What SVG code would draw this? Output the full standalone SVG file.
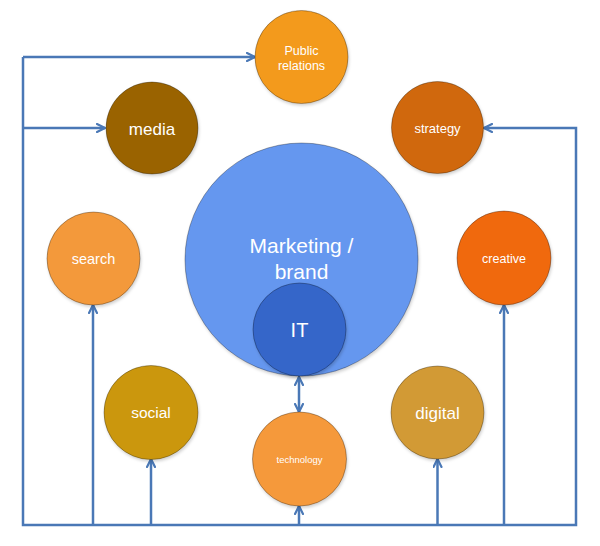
<svg xmlns="http://www.w3.org/2000/svg" width="600" height="546" viewBox="0 0 600 546">
<defs>
<marker id="arr" viewBox="0 0 10 10" refX="9" refY="5" markerWidth="10" markerHeight="10" markerUnits="userSpaceOnUse" orient="auto-start-reverse">
<path d="M1,1 L9,5 L1,9" fill="none" stroke="#4a78b6" stroke-width="2.2" stroke-linecap="round" stroke-linejoin="round"/>
</marker>
<filter id="sh" x="-20%" y="-20%" width="140%" height="140%">
<feDropShadow dx="1" dy="2" stdDeviation="1.5" flood-color="#000" flood-opacity="0.18"/>
</filter>
</defs>
<style>
.n{stroke:#000;stroke-opacity:0.3;stroke-width:1;filter:url(#sh)}
.t{fill:#fff;font-family:"Liberation Sans",Arial,sans-serif;text-anchor:middle}
.c{fill:none;stroke:#4a78b6;stroke-width:2.5}
</style>
<rect width="600" height="546" fill="#fff"/>
<g id="connectors">
<path class="c" d="M23,57 V525 H576 V128 H484" marker-end="url(#arr)"/>
<path class="c" d="M23,57 H255" marker-end="url(#arr)"/>
<path class="c" d="M23,128 H105" marker-end="url(#arr)"/>
<path class="c" d="M93,525 V305" marker-end="url(#arr)"/>
<path class="c" d="M151,525 V459" marker-end="url(#arr)"/>
<path class="c" d="M299,525 V506" marker-end="url(#arr)"/>
<path class="c" d="M437.5,525 V459" marker-end="url(#arr)"/>
<path class="c" d="M504,525 V305" marker-end="url(#arr)"/>
<path class="c" d="M299,377 V412" marker-start="url(#arr)" marker-end="url(#arr)"/>
</g>
<g id="public-relations">
<circle class="n" cx="301.5" cy="57" r="46.5" fill="#f39a1c"/>
<text class="t" x="301.5" y="55" font-size="12.5">Public</text>
<text class="t" x="301.5" y="70" font-size="12.5">relations</text>
</g>
<g id="media">
<circle class="n" cx="152" cy="128" r="46" fill="#9a6406"/>
<text class="t" x="152" y="135" font-size="17">media</text>
</g>
<g id="strategy">
<circle class="n" cx="437.5" cy="127.5" r="46" fill="#d0680b"/>
<text class="t" x="437.5" y="133" font-size="13">strategy</text>
</g>
<g id="search">
<circle class="n" cx="93.5" cy="258.5" r="46.5" fill="#f3993a"/>
<text class="t" x="93.5" y="264" font-size="14.5">search</text>
</g>
<g id="creative">
<circle class="n" cx="504" cy="258" r="47" fill="#f0690f"/>
<text class="t" x="504" y="263" font-size="12.5">creative</text>
</g>
<g id="marketing">
<circle class="n" cx="301.5" cy="259.5" r="116.5" fill="#6597ef"/>
<text class="t" x="301.5" y="253" font-size="21">Marketing /</text>
<text class="t" x="301.5" y="279" font-size="21">brand</text>
</g>
<g id="it">
<circle class="n" cx="299.5" cy="329.5" r="46.5" fill="#3566c9"/>
<text class="t" x="299.5" y="337" font-size="20">IT</text>
</g>
<g id="social">
<circle class="n" cx="151" cy="412.5" r="47" fill="#cb970b"/>
<text class="t" x="151" y="418" font-size="15.5">social</text>
</g>
<g id="technology">
<circle class="n" cx="299.5" cy="459" r="47" fill="#f5993a"/>
<text class="t" x="299.5" y="463" font-size="9.5">technology</text>
</g>
<g id="digital">
<circle class="n" cx="437.5" cy="412.5" r="46.5" fill="#d29a35"/>
<text class="t" x="437.5" y="419" font-size="17">digital</text>
</g>
</svg>
